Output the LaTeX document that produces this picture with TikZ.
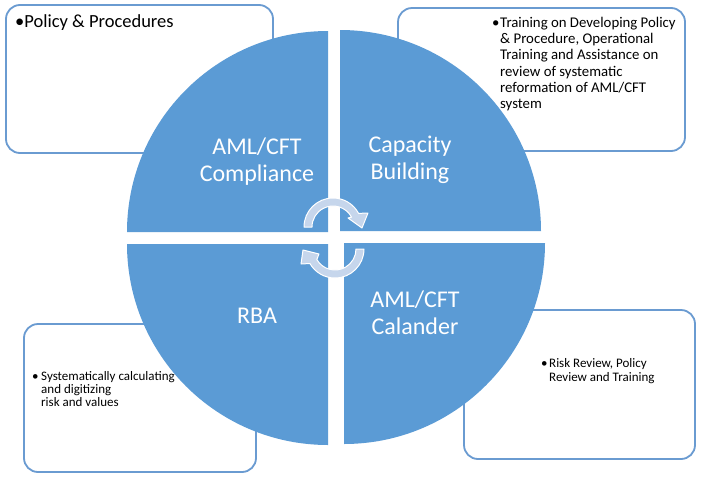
\documentclass[tikz,border=0pt]{standalone}
\usepackage{fontspec}
\setmainfont{Carlito}
\definecolor{qblue}{HTML}{5B9BD5}
\definecolor{bline}{HTML}{6A9BD1}
\definecolor{arrfill}{HTML}{C6D6EC}
\begin{document}
\begin{tikzpicture}[x=1pt,y=-1pt,
  infobox/.style={draw=bline, line width=1.8pt, fill=white, rounded corners=14pt},
  quad/.style={fill=qblue},
  qlabel/.style={text=white, font=\fontsize{24}{27}\selectfont, align=center, inner sep=0},
  bul/.style={anchor=base west, inner sep=0, text=black},
  cyc/.style={fill=arrfill, draw=white, line width=1pt, line join=round}]
\fill[white] (0,0) rectangle (702,480);
\useasboundingbox (0,0) rectangle (702,480);
% info boxes
\draw[infobox] (6,5) rectangle (273,153);
\draw[infobox] (398,8) rectangle (685,151);
\draw[infobox] (24,324) rectangle (256,472);
\draw[infobox] (464,310) rectangle (695,459);
% quadrants
\fill[quad] (328,232) -- (127,232) arc[start angle=180, end angle=270, radius=201] -- cycle;
\fill[quad] (340,231) -- (340,30) arc[start angle=270, end angle=360, radius=201] -- cycle;
\fill[quad] (344,243) -- (545,243) arc[start angle=0, end angle=90, radius=201] -- cycle;
\fill[quad] (328,244) -- (328,445) arc[start angle=90, end angle=180, radius=201] -- cycle;
% cycle arrows
\path[cyc] ([shift={(333,227)}]180:21) -- ([shift={(333,227)}]180:29)
  arc[start angle=180, end angle=332, radius=29] -- (368,213) -- (362,228) -- (348,218)
  -- ([shift={(333,227)}]332:21) arc[start angle=332, end angle=180, radius=21] -- cycle;
\path[cyc] ([shift={(335,249)}]0:21) -- ([shift={(335,249)}]0:29)
  arc[start angle=0, end angle=150, radius=29] -- (301,264) -- (303,250) -- (319,254)
  -- ([shift={(335,249)}]150:21) arc[start angle=150, end angle=0, radius=21] -- cycle;
% quadrant labels
\node[qlabel] (q1) at (257,162) {AML/CFT\\Compliance};
\node[qlabel] (q2) at (410,160) {Capacity\\Building};
\node[qlabel] (q3) at (257,316) {RBA};
\node[qlabel] (q4) at (415,313) {AML/CFT\\Calander};
% box texts
\node[bul, font=\fontsize{18.5}{21}\selectfont] (t1) at (15,27) {•Policy \& Procedures};
\node[bul, font=\fontsize{14.8}{16.3}\selectfont] (t2) at (492,27.3) {\begin{tabular}[t]{@{}l@{}l@{}}\makebox[8pt][l]{•}&Training on Developing Policy\\&\& Procedure, Operational\\&Training and Assistance on\\&review of systematic\\&reformation of AML/CFT\\&system\end{tabular}};
\node[bul, font=\fontsize{13}{13.3}\selectfont] (t3) at (32,380) {\begin{tabular}[t]{@{}l@{}l@{}}\makebox[9pt][l]{•}&Systematically calculating\\&and digitizing\\&risk and values\end{tabular}};
\node[bul, font=\fontsize{13}{14}\selectfont] (t4) at (541,367) {\begin{tabular}[t]{@{}l@{}l@{}}\makebox[8pt][l]{•}&Risk Review, Policy\\&Review and Training\end{tabular}};
\end{tikzpicture}
\end{document}
